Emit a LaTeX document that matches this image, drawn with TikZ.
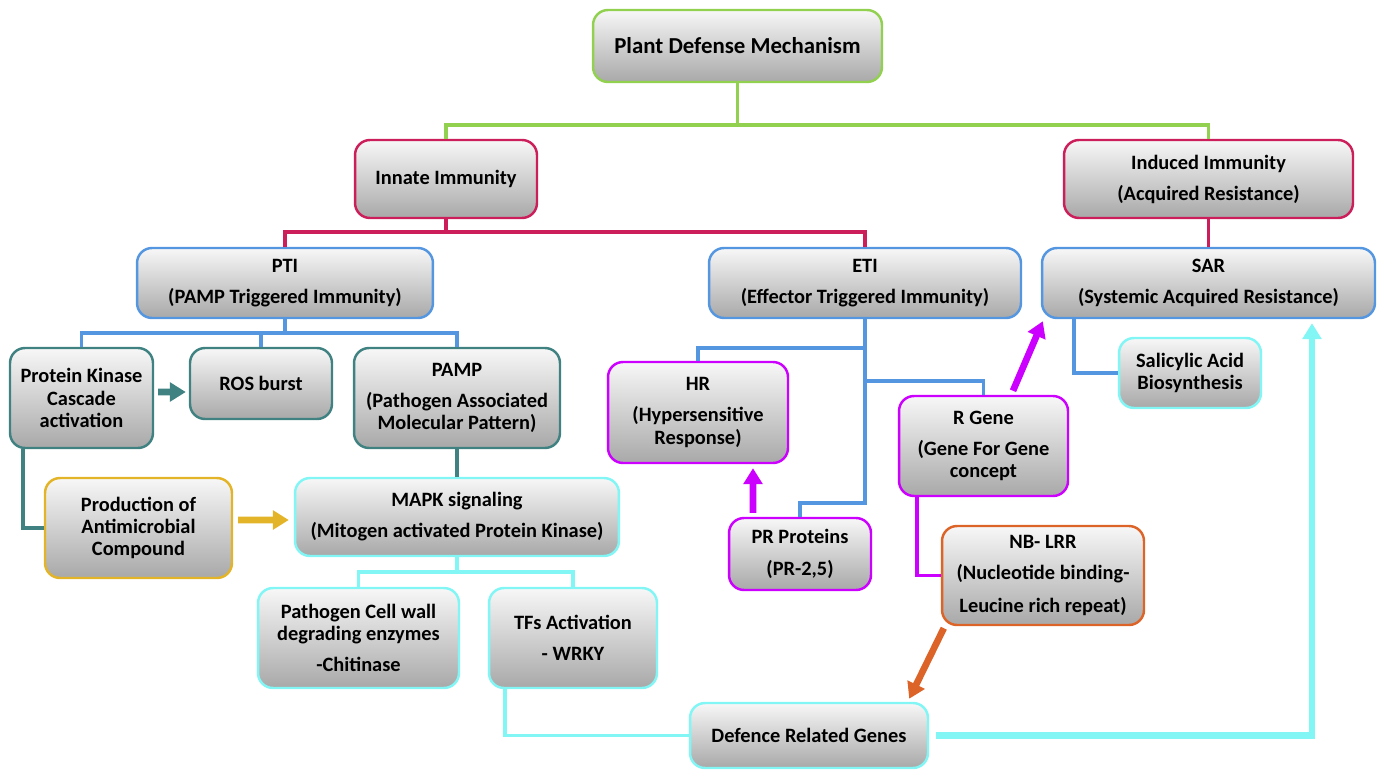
\documentclass[tikz,border=0pt]{standalone}
\usepackage{fontspec}
\setmainfont{Carlito}
\usepackage{tikz}
\usetikzlibrary{positioning}
\usetikzlibrary{calc}
\usetikzlibrary{arrows.meta}

\definecolor{pdgreen}{RGB}{146,208,80}
\definecolor{pdcrimson}{RGB}{204,30,90}
\definecolor{pdblue}{RGB}{85,150,225}
\definecolor{pdteal}{RGB}{64,130,130}
\definecolor{pdgold}{RGB}{228,180,40}
\definecolor{pdcyan}{RGB}{130,245,245}
\definecolor{pdmagenta}{RGB}{204,0,255}
\definecolor{pdorange}{RGB}{220,100,40}

\begin{document}
\begin{tikzpicture}[x=0.02cm, y=-0.02cm,
    box/.style={draw=#1, line width=1.4pt, rounded corners=0.3cm, top color=black!3, bottom color=black!34,
        align=center, inner sep=2pt, font=\bfseries\fontsize{11.6}{12.6}\selectfont},
    dims/.style 2 args={minimum width=#1, minimum height=#2},
    link/.style={draw=#1, line width=2pt},
    bigarrow/.style={draw=#1, line width=3.8pt, -{Triangle[length=9pt,width=10.5pt]}}]

    \useasboundingbox (0,0) rectangle (1379,770);

    % top levels
    \node[box=pdgreen, dims={5.78cm}{1.44cm}, font=\bfseries\fontsize{13}{14}\selectfont] (plant) at (737.5,46) {Plant Defense Mechanism};
    \node[box=pdcrimson, dims={3.64cm}{1.56cm}] (innate) at (446,179) {Innate Immunity};
    \node[box=pdcrimson, dims={5.78cm}{1.56cm}] (induced) at (1208.5,179) {Induced Immunity\\[5pt](Acquired Resistance)};

    \node[box=pdblue, dims={5.92cm}{1.40cm}] (pti) at (285,283) {PTI\\[5pt](PAMP Triggered Immunity)};
    \node[box=pdblue, dims={6.24cm}{1.40cm}] (eti) at (865,283) {ETI\\[5pt](Effector Triggered Immunity)};
    \node[box=pdblue, dims={6.66cm}{1.40cm}] (sar) at (1208.5,283) {SAR\\[5pt](Systemic Acquired Resistance)};

    % PTI branch
    \node[box=pdteal, dims={2.86cm}{2.0cm}] (pkc) at (81.5,398) {Protein Kinase\\Cascade\\activation};
    \node[box=pdteal, dims={2.84cm}{1.42cm}] (ros) at (261,383.5) {ROS burst};
    \node[box=pdteal, dims={4.12cm}{2.0cm}] (pamp) at (457,398) {PAMP\\[5pt](Pathogen Associated\\Molecular Pattern)};
    \node[box=pdgold, dims={3.74cm}{2.0cm}] (antimic) at (138.5,528) {Production of\\Antimicrobial\\Compound};
    \node[box=pdcyan, dims={6.48cm}{1.56cm}] (mapk) at (457,517) {MAPK signaling\\[5pt](Mitogen activated Protein Kinase)};
    \node[box=pdcyan, dims={4.02cm}{2.0cm}] (cellwall) at (358.5,638) {Pathogen Cell wall\\degrading enzymes\\[5pt]-Chitinase};
    \node[box=pdcyan, dims={3.36cm}{2.0cm}] (tfs) at (573,638) {TFs Activation\\[5pt]- WRKY};
    \node[box=pdcyan, dims={4.76cm}{1.30cm}] (defgenes) at (809,735.5) {Defence Related Genes};

    % ETI branch
    \node[box=pdmagenta, dims={3.6cm}{2.02cm}] (hr) at (698,412.5) {HR\\[5pt](Hypersensitive\\Response)};
    \node[box=pdmagenta, dims={2.84cm}{1.44cm}] (prprot) at (800,554) {PR Proteins\\[6pt](PR-2,5)};
    \node[box=pdmagenta, dims={3.38cm}{2.0cm}] (rgene) at (983.5,446) {R Gene\\[5pt](Gene For Gene\\concept};
    \node[box=pdorange, dims={4.04cm}{1.98cm}] (nblrr) at (1043,575.5) {NB- LRR\\[5pt](Nucleotide binding-\\[6pt]Leucine rich repeat)};
    \node[box=pdcyan, dims={2.84cm}{1.40cm}] (salicylic) at (1190,373) {Salicylic Acid\\Biosynthesis};

    % tree lines
    \coordinate (gj) at (737.5,125);
    \draw[link=pdgreen] (plant.south) -- (gj);
    \draw[link=pdgreen] (innate.north) |- (gj) -| (induced.north);

    \coordinate (cj) at (446,232);
    \draw[link=pdcrimson] (innate.south) -- (cj);
    \draw[link=pdcrimson] (pti.north) |- (cj) -| (eti.north);
    \draw[link=pdcrimson] (induced.south) -- (sar.north);

    \coordinate (pj) at (285,333);
    \draw[link=pdblue] (pti.south) -- (pj);
    \draw[link=pdblue] (pkc.north) |- (pj) -| (pamp.north);
    \draw[link=pdblue] (ros.north) -- (ros.north |- pj);

    \coordinate (e1) at (865,348);
    \coordinate (e2) at (865,381);
    \coordinate (e3) at (865,503);
    \draw[link=pdblue] (eti.south) -- (e3) -| (prprot.north);
    \draw[link=pdblue] (e1) -| (hr.north);
    \draw[link=pdblue] (e2) -| (rgene.north);
    \draw[link=pdblue] ([xshift=0.66cm]sar.south west) |- (salicylic.west);

    \draw[link=pdteal] (pamp.south) -- (mapk.north);
    \draw[link=pdteal] ([xshift=0.28cm]pkc.south west) |- (antimic.west);

    \coordinate (mj) at (457,572);
    \draw[link=pdcyan] (mapk.south) -- (mj);
    \draw[link=pdcyan] (cellwall.north) |- (mj) -| (tfs.north);
    \draw[link=pdcyan] ([xshift=0.34cm]tfs.south west) |- (defgenes.west);

    \draw[link=pdmagenta] ([xshift=-1.33cm]rgene.south) |- (nblrr.west);

    % thick arrows
    \draw[bigarrow=pdteal] ([xshift=0.08cm,yshift=0.12cm]pkc.east) -- ([xshift=-0.06cm,yshift=-0.17cm]ros.west);
    \draw[bigarrow=pdgold] ([xshift=0.1cm,yshift=0.16cm]antimic.east) -- ([xshift=-0.1cm,yshift=-0.06cm]mapk.west);
    \draw[bigarrow=pdmagenta] ([xshift=-0.94cm,yshift=0.08cm]prprot.north) -- ([xshift=1.1cm,yshift=-0.08cm]hr.south);
    \draw[bigarrow=pdmagenta] ([xshift=0.59cm,yshift=0.08cm]rgene.north) -- ([xshift=0.04cm,yshift=-0.04cm]sar.south west);
    \draw[bigarrow=pdorange] ([xshift=0.06cm,yshift=-0.04cm]nblrr.south west) -- ([xshift=-0.4cm,yshift=0.06cm]defgenes.north east);
    \draw[bigarrow=pdcyan] ([xshift=0.14cm]defgenes.east) -| ([xshift=2.07cm,yshift=-0.08cm]sar.south);

\end{tikzpicture}
\end{document}
